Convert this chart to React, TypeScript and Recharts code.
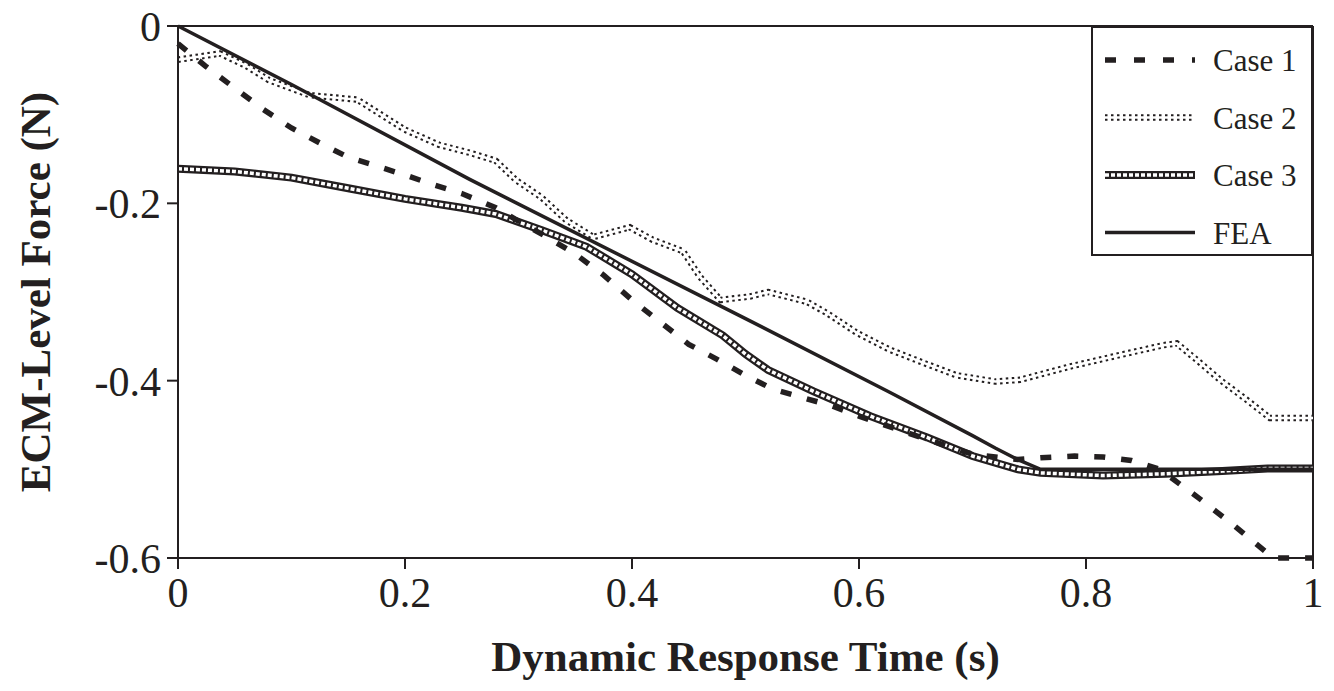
import { LineChart, Line, XAxis, YAxis, Legend, ReferenceLine } from "recharts";

const INK = "#231f20";
const FONT = '"Liberation Serif", "Times New Roman", serif';

// values
const case1Time = [0, 0.025, 0.05, 0.075, 0.1, 0.125, 0.15, 0.175, 0.2, 0.225, 0.25, 0.28, 0.3, 0.325, 0.35, 0.375, 0.4, 0.425, 0.45, 0.475, 0.5, 0.525, 0.55, 0.575, 0.6, 0.65, 0.7, 0.74, 0.76, 0.79, 0.815, 0.84, 0.865, 0.9, 0.93, 0.965, 1];
const case1Force = [-0.02, -0.046, -0.07, -0.094, -0.115, -0.132, -0.148, -0.158, -0.168, -0.179, -0.189, -0.205, -0.22, -0.238, -0.257, -0.281, -0.309, -0.334, -0.359, -0.376, -0.394, -0.41, -0.419, -0.428, -0.44, -0.462, -0.483, -0.489, -0.487, -0.485, -0.486, -0.49, -0.5, -0.533, -0.563, -0.6, -0.6];

const case2Time = [0, 0.037, 0.06, 0.08, 0.116, 0.158, 0.2, 0.23, 0.257, 0.28, 0.298, 0.32, 0.342, 0.366, 0.398, 0.418, 0.445, 0.46, 0.478, 0.504, 0.52, 0.554, 0.572, 0.598, 0.627, 0.657, 0.686, 0.72, 0.742, 0.786, 0.83, 0.868, 0.88, 0.898, 0.918, 0.942, 0.962, 1];
const case2Force = [-0.038, -0.031, -0.045, -0.061, -0.078, -0.083, -0.117, -0.134, -0.143, -0.152, -0.174, -0.193, -0.219, -0.238, -0.227, -0.241, -0.254, -0.283, -0.309, -0.305, -0.3, -0.311, -0.324, -0.346, -0.365, -0.38, -0.394, -0.401, -0.399, -0.384, -0.371, -0.36, -0.358, -0.377, -0.399, -0.422, -0.442, -0.442];

const case3Time = [0, 0.05, 0.1, 0.15, 0.2, 0.25, 0.28, 0.32, 0.36, 0.4, 0.44, 0.48, 0.5, 0.52, 0.56, 0.61, 0.66, 0.7, 0.74, 0.76, 0.815, 0.87, 0.92, 0.96, 1];
const case3Force = [-0.161, -0.164, -0.171, -0.183, -0.195, -0.205, -0.212, -0.23, -0.249, -0.28, -0.318, -0.349, -0.37, -0.388, -0.412, -0.44, -0.464, -0.485, -0.5, -0.504, -0.507, -0.505, -0.502, -0.499, -0.499];

const feaTime = [0, 0.1, 0.257, 0.5, 0.627, 0.7, 0.72, 0.74, 0.76, 0.8, 0.9, 1];
const feaForce = [0, -0.066, -0.173, -0.33, -0.413, -0.462, -0.476, -0.489, -0.5, -0.5, -0.5, -0.5];

const xTicks = [0, 0.2, 0.4, 0.6, 0.8, 1];
const yTicks = [-0.6, -0.4, -0.2, 0];
const legendLabels = ["Case 1", "Case 2", "Case 3", "FEA"];

const toPoints = (time: number[], force: number[]) =>
  time.map((t, i) => ({ time: t, force: force[i] }));

const case1Data = toPoints(case1Time, case1Force);
const case2Data = toPoints(case2Time, case2Force);
const case3Data = toPoints(case3Time, case3Force);
const feaData = toPoints(feaTime, feaForce);

function LegendSample({ index, y }: { index: number; y: number }) {
  const x1 = 14;
  const x2 = 104;
  if (index === 0)
    return <line x1={x1} x2={x2} y1={y} y2={y} stroke={INK} strokeWidth={5.5} strokeDasharray="11 18" />;
  if (index === 1)
    return (
      <g>
        <line x1={x1} x2={x2} y1={y} y2={y} stroke={INK} strokeWidth={6.5} strokeDasharray="2.5 3.5" />
        <line x1={x1} x2={x2} y1={y} y2={y} stroke="#fff" strokeWidth={2.5} />
      </g>
    );
  if (index === 2)
    return (
      <g>
        <line x1={x1} x2={x2} y1={y} y2={y} stroke={INK} strokeWidth={8} />
        <line x1={x1} x2={x2} y1={y} y2={y} stroke="#fff" strokeWidth={3.5} strokeDasharray="4 2" />
      </g>
    );
  return <line x1={x1} x2={x2} y1={y} y2={y} stroke={INK} strokeWidth={3.5} />;
}

function LegendBox() {
  return (
    <svg width={222} height={230} style={{ display: "block" }}>
      <rect x={1} y={1} width={220} height={228} fill="#fff" stroke={INK} strokeWidth={2} />
      {legendLabels.map((label, i) => {
        const y = 34 + i * 57.5;
        return (
          <g key={label}>
            <LegendSample index={i} y={y} />
            <text x={122} y={y + 11} fontFamily={FONT} fontSize={31} fill={INK}>
              {label}
            </text>
          </g>
        );
      })}
    </svg>
  );
}

export default function App() {
  const tickStyle = { fill: INK, fontSize: 42, fontFamily: FONT };
  return (
    <div style={{ position: "absolute", left: 0, top: 0, background: "#fff" }}>
      <LineChart
        width={1334}
        height={691}
        margin={{ top: 26, right: 21, bottom: 73, left: 0 }}
      >
        <XAxis
          dataKey="time"
          type="number"
          domain={[0, 1]}
          ticks={xTicks}
          tickFormatter={(v) => String(v)}
          height={60}
          tick={tickStyle}
          tickSize={11}
          tickMargin={8}
          axisLine={{ stroke: INK, strokeWidth: 2 }}
          tickLine={{ stroke: INK, strokeWidth: 2 }}
          label={{
            value: "Dynamic Response Time (s)",
            position: "bottom",
            offset: 22,
            style: { fill: INK, fontSize: 43, fontWeight: "bold", fontFamily: FONT },
          }}
        />
        <YAxis
          type="number"
          domain={[-0.6, 0]}
          ticks={yTicks}
          tickFormatter={(v) => String(v)}
          width={178}
          tick={tickStyle}
          tickSize={11}
          tickMargin={6}
          axisLine={{ stroke: INK, strokeWidth: 2 }}
          tickLine={{ stroke: INK, strokeWidth: 2 }}
          label={{
            value: "ECM-Level Force (N)",
            angle: -90,
            position: "insideLeft",
            offset: 35,
            style: { fill: INK, fontSize: 43, fontWeight: "bold", fontFamily: FONT, textAnchor: "middle" },
          }}
        />
        <ReferenceLine y={0} stroke={INK} strokeWidth={2} />
        <ReferenceLine x={1} stroke={INK} strokeWidth={2} />

        {/* Case 2: double dotted line */}
        <Line data={case2Data} dataKey="force" type="linear" stroke={INK} strokeWidth={6.5} strokeDasharray="2.5 3.5" dot={false} isAnimationActive={false} />
        <Line data={case2Data} dataKey="force" type="linear" stroke="#fff" strokeWidth={2.5} dot={false} isAnimationActive={false} />

        {/* Case 3: chain of squares */}
        <Line data={case3Data} dataKey="force" type="linear" stroke={INK} strokeWidth={8} dot={false} isAnimationActive={false} />
        <Line data={case3Data} dataKey="force" type="linear" stroke="#fff" strokeWidth={3.5} strokeDasharray="4 2" dot={false} isAnimationActive={false} />

        <Line data={case1Data} dataKey="force" type="linear" stroke={INK} strokeWidth={5.5} strokeDasharray="11 16" dot={false} isAnimationActive={false} />
        <Line data={feaData} dataKey="force" type="linear" stroke={INK} strokeWidth={3.5} dot={false} isAnimationActive={false} />

        <Legend
          layout="vertical"
          align="center"
          verticalAlign="middle"
          content={() => <LegendBox />}
          wrapperStyle={{ top: 26, left: 1091, width: 222, height: 230 }}
        />
      </LineChart>
    </div>
  );
}
